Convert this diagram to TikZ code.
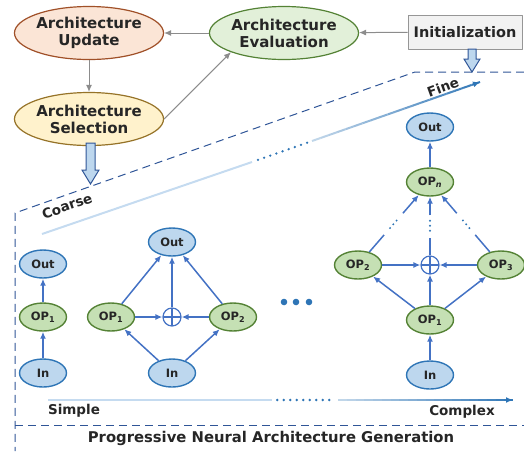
\documentclass[tikz,border=0pt]{standalone}
\usepackage{fontspec}
\setmainfont{DejaVu Sans}
\usetikzlibrary{arrows.meta,calc,shapes.geometric}
\definecolor{edge}{HTML}{4472C4}
\definecolor{bluefill}{HTML}{BDD7EE}
\definecolor{blueline}{HTML}{2E75B6}
\definecolor{greenfill}{HTML}{C5E0B4}
\definecolor{greenline}{HTML}{548235}
\definecolor{dash}{HTML}{2F5597}
\definecolor{pale}{HTML}{C5DBF0}
\definecolor{ink}{HTML}{262626}
\tikzset{
  every node/.style={text=ink},
  bignode/.style={ellipse, draw, line width=1.2pt, inner sep=0pt, minimum width=148, minimum height=53, align=center, font=\bfseries\fontsize{15}{17}\selectfont},
  updatenode/.style={bignode, fill={rgb,255:red,251;green,229;blue,214}, draw={rgb,255:red,160;green,80;blue,40}},
  evalnode/.style={bignode, fill={rgb,255:red,226;green,240;blue,217}, draw={rgb,255:red,84;green,130;blue,53}},
  selnode/.style={bignode, fill={rgb,255:red,255;green,242;blue,204}, draw={rgb,255:red,150;green,115;blue,40}},
  initnode/.style={rectangle, draw={rgb,255:red,150;green,150;blue,150}, fill={rgb,255:red,242;green,242;blue,242}, line width=1pt, minimum width=114, minimum height=34, font=\bfseries\fontsize{14.5}{16}\selectfont},
  flow/.style={->, draw={rgb,255:red,140;green,140;blue,140}, line width=1pt},
  blocknode/.style={ellipse, draw=blueline, fill=bluefill, line width=1.4pt, minimum width=47, minimum height=28, inner sep=0pt, font=\bfseries\fontsize{11.5}{12}\selectfont},
  opnode/.style={blocknode, draw=greenline, fill=greenfill},
  sumnode/.style={circle, draw=edge, fill=white, line width=1.2pt, minimum size=18, inner sep=0pt,
    path picture={\draw[edge, line width=1.2pt] (path picture bounding box.north) -- (path picture bounding box.south) (path picture bounding box.west) -- (path picture bounding box.east);}},
  link/.style={->, draw=edge, line width=1.5pt},
  dotline/.style={draw=blueline, line width=2.6pt, line cap=round, dash pattern=on 0pt off 6.5pt},
  border/.style={draw=dash, line width=1pt, dash pattern=on 8pt off 5pt},
  bigarrow/.style={draw=dash, fill=bluefill, line width=1pt, line join=miter},
  tag/.style={font=\bfseries\fontsize{13.5}{14}\selectfont}
}
\begin{document}
\begin{tikzpicture}[x=1pt, y=-1pt, >={Latex[length=7pt,width=6pt]}, line join=round]
\useasboundingbox (0,0) rectangle (524,451);
% search loop
\node[updatenode] (update) at (89,33) {Architecture\\Update};
\node[evalnode] (eval) at (284,33) {Architecture\\Evaluation};
\node[selnode] (select) at (89,119) {Architecture\\Selection};
\node[initnode] (init) at (465,32) {Initialization};
\draw[flow] (init) -- (eval);
\draw[flow] (eval) -- (update);
\draw[flow] (update) -- (select);
\draw[flow] (select.east) -- (eval.south west);
% block arrows
\draw[bigarrow] (86,143) -- (95,143) -- (95,170) -- (99,170) -- (90.5,184) -- (82,170) -- (86,170) -- cycle;
\draw[bigarrow] (468,49) -- (476,49) -- (476,59) -- (480,59) -- (472,72) -- (464,59) -- (468,59) -- cycle;
% generation region
\draw[border] (524,72) -- (415,72) -- (15,213) -- (15,451);
\draw[border] (15,425) -- (524,425);
% coarse to fine
\coordinate (c1) at (42,234);
\coordinate (c2) at (252,162);
\coordinate (c3) at (312,141);
\coordinate (c4) at (480,82);
\draw[pale, line width=2pt] (c1) -- (c2);
\draw[dotline] ($(c2)!0.1!(c3)$) -- ($(c2)!0.95!(c3)$);
\foreach \i in {0,...,19}{
  \pgfmathsetmacro\t{\i/20}
  \pgfmathsetmacro\u{(\i+1)/20}
  \pgfmathsetmacro\c{30+3.5*\i}
  \draw[blueline!\c!white, line width=2pt] ($(c3)!\t!(c4)$) -- ($(c3)!\u!(c4)$);
}
\draw[->, blueline, line width=2pt] ($(c3)!0.96!(c4)$) -- (c4);
\node[tag, rotate=19.4] (coarse) at (67,206) {Coarse};
\node[tag, rotate=20] (fine) at (443,87) {Fine};
% simple to complex
\coordinate (s1) at (48,400);
\coordinate (s2) at (272,400);
\coordinate (s3) at (338,400);
\coordinate (s4) at (513,400);
\draw[pale, line width=2pt] (s1) -- (s2);
\draw[dotline] ($(s2)!0.08!(s3)$) -- ($(s2)!0.95!(s3)$);
\foreach \i in {0,...,19}{
  \pgfmathsetmacro\t{\i/20}
  \pgfmathsetmacro\u{(\i+1)/20}
  \pgfmathsetmacro\c{30+3.5*\i}
  \draw[blueline!\c!white, line width=2pt] ($(s3)!\t!(s4)$) -- ($(s3)!\u!(s4)$);
}
\draw[->, blueline, line width=2pt] ($(s3)!0.96!(s4)$) -- (s4);
\node[tag] (simple) at (74,411) {Simple};
\node[tag] (complex) at (462,412) {Complex};
\node[font=\bfseries\fontsize{14.8}{16}\selectfont] (title) at (271,438) {Progressive Neural Architecture Generation};
% simplest block
\node[blocknode] (out1) at (43,264) {Out};
\node[opnode] (op11) at (43,317) {OP\textsubscript{1}};
\node[blocknode] (in1) at (43,373) {In};
\draw[link] (in1) -- (op11);
\draw[link] (op11) -- (out1);
% two-op block
\node[blocknode] (out2) at (172,242) {Out};
\node[opnode] (op21) at (111,317) {OP\textsubscript{1}};
\node[opnode] (op22) at (233,317) {OP\textsubscript{2}};
\node[sumnode] (sum2) at (172,317) {};
\node[blocknode] (in2) at (172,373) {In};
\draw[link] (in2) -- (op21);
\draw[link] (in2) -- (op22);
\draw[link] (op21) -- (out2);
\draw[link] (op22) -- (out2);
\draw[link] (op21) -- (sum2);
\draw[link] (op22) -- (sum2);
\draw[link] (sum2) -- (out2);
\foreach \x in {284,296,309}
  \fill[blueline] (\x,302) circle (3.3);
% n-op block
\node[blocknode] (out3) at (430,127) {Out};
\node[opnode] (opn) at (430,182) {OP\textsubscript{\itshape n}};
\node[opnode] (op32) at (358,265) {OP\textsubscript{2}};
\node[opnode] (op33) at (501,265) {OP\textsubscript{3}};
\node[sumnode] (sum3) at (430,265) {};
\node[opnode] (op31) at (430,320) {OP\textsubscript{1}};
\node[blocknode] (in3) at (430,375) {In};
\draw[link] (in3) -- (op31);
\draw[link] (op31) -- (op32);
\draw[link] (op31) -- (op33);
\draw[link] (op31) -- (sum3);
\draw[link] (op32) -- (sum3);
\draw[link] (op33) -- (sum3);
\draw[link] (opn) -- (out3);
\foreach \from in {op32,sum3,op33}{
  \path (\from) -- (opn) coordinate[pos=0.3] (\from a) coordinate[pos=0.42] (\from b)
    coordinate[pos=0.6] (\from c) coordinate[pos=0.68] (\from d);
  \draw[draw=edge, line width=1.5pt] (\from) -- (\from a);
  \draw[dotline, line width=2.2pt, dash pattern=on 0pt off 5pt] (\from b) -- (\from c);
  \draw[link] (\from d) -- (opn);
}
\end{tikzpicture}
\end{document}
